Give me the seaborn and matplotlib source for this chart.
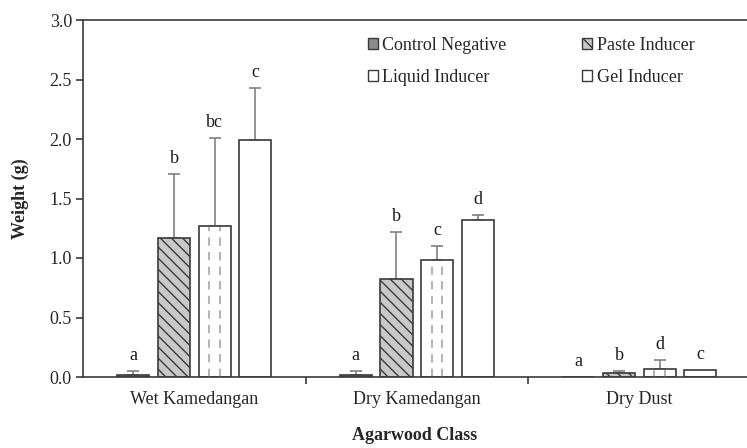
import numpy as np
import pandas as pd
import matplotlib
matplotlib.use("Agg")
import matplotlib.pyplot as plt
from matplotlib.patches import Patch
from matplotlib.container import BarContainer
import seaborn as sns

# values
categories = ["Wet Kamedangan", "Dry Kamedangan", "Dry Dust"]
treatments = ["Control Negative", "Paste Inducer", "Liquid Inducer", "Gel Inducer"]

control_mean = [0.02, 0.02, 0.0]
control_err = [0.03, 0.03, 0.0]
paste_mean = [1.17, 0.82, 0.03]
paste_err = [0.54, 0.40, 0.02]
liquid_mean = [1.27, 0.98, 0.07]
liquid_err = [0.74, 0.12, 0.07]
gel_mean = [1.99, 1.32, 0.06]
gel_err = [0.44, 0.04, 0.0]

control_letters = ["a", "a", "a"]
paste_letters = ["b", "b", "b"]
liquid_letters = ["bc", "c", "d"]
gel_letters = ["c", "d", "c"]

means = [control_mean, paste_mean, liquid_mean, gel_mean]
errs = [control_err, paste_err, liquid_err, gel_err]
letters = [control_letters, paste_letters, liquid_letters, gel_letters]

rows = []
for t, vals in zip(treatments, means):
    for c, v in zip(categories, vals):
        rows.append({"Class": c, "Treatment": t, "Weight": v})
df = pd.DataFrame(rows)

sns.set_theme(style="ticks")
plt.rcParams["font.family"] = ["Liberation Serif", "DejaVu Serif"]
plt.rcParams["hatch.linewidth"] = 1.0

edge = "#3a3a3a"
faces = ["#8a8a8a", "#c8c8c8", "white", "white"]

fig = plt.figure(figsize=(7.47, 4.48), dpi=100)
ax = fig.add_axes([83 / 747, 1 - 377 / 448, 664 / 747, 357 / 448])

sns.barplot(
    data=df, x="Class", y="Weight", hue="Treatment",
    order=categories, hue_order=treatments, palette=faces,
    width=0.73, gap=0.21, errorbar=None, saturation=1,
    edgecolor=edge, linewidth=1.2, legend=False, ax=ax,
)

bar_conts = [c for c in ax.containers if isinstance(c, BarContainer)]
for i, cont in enumerate(bar_conts):
    for j, p in enumerate(cont.patches):
        p.set_facecolor(faces[i])
        p.set_edgecolor(edge)
        if i == 1:
            p.set_hatch("\\" * 3)
        x0, w, h = p.get_x(), p.get_width(), p.get_height()
        xc = x0 + w / 2
        if i == 2 and h > 0:
            for frac in (1 / 3, 2 / 3):
                ax.plot([x0 + frac * w] * 2, [0.0, h - 0.01], ls=(0, (4, 3)),
                        color="#b5b5b5", lw=1.5, zorder=1.5)
        e = errs[i][j]
        if e > 0:
            ax.errorbar(xc, h, yerr=[[0], [e]], fmt="none", ecolor="#808080",
                        elinewidth=1.2, capsize=4, capthick=1.2, zorder=0.9)
        ax.annotate(letters[i][j], (xc, h + e), xytext=(0, 5),
                    textcoords="offset points", ha="center", va="bottom",
                    fontsize=13, color="#1a1a1a")

ax.set_xlim(-0.5, 2.484)
ax.set_ylim(0, 3.0)
ax.set_yticks(np.arange(0, 3.01, 0.5))
ax.set_yticklabels([f"{v:.1f}" for v in np.arange(0, 3.01, 0.5)])
ax.set_xticks([0.5, 1.5], minor=True)
ax.tick_params(axis="x", which="major", length=0, pad=10, labelsize=13)
ax.tick_params(axis="x", which="minor", length=5, width=1.2, color=edge)
ax.tick_params(axis="y", length=5, width=1.2, color=edge, pad=3, labelsize=13)

for s in ["left", "bottom", "top"]:
    ax.spines[s].set_visible(True)
    ax.spines[s].set_color(edge)
    ax.spines[s].set_linewidth(1.2)
ax.spines["right"].set_visible(False)

ax.set_xlabel("Agarwood Class", fontsize=13, fontweight="bold", labelpad=14)
ax.set_ylabel("Weight (g)", fontsize=13, fontweight="bold", labelpad=15)

# legend filled row-wise like the reference: column 1 = Control/Liquid, column 2 = Paste/Gel
legend_order = [0, 2, 1, 3]
handle_map = {
    0: Patch(facecolor=faces[0], edgecolor=edge, lw=1.0),
    1: Patch(facecolor=faces[1], edgecolor=edge, lw=1.0, hatch="\\" * 3),
    2: Patch(facecolor="white", edgecolor=edge, lw=1.0),
    3: Patch(facecolor="white", edgecolor=edge, lw=1.0),
}
ax.legend([handle_map[k] for k in legend_order],
          [treatments[k] for k in legend_order],
          ncols=2, frameon=False, loc="upper left",
          bbox_to_anchor=(0.429, 0.952), borderpad=0, borderaxespad=0,
          handlelength=0.55, handleheight=0.55, handletextpad=0.25,
          columnspacing=4.2, labelspacing=0.8, fontsize=13)

fig.savefig("out.png", dpi=100)
